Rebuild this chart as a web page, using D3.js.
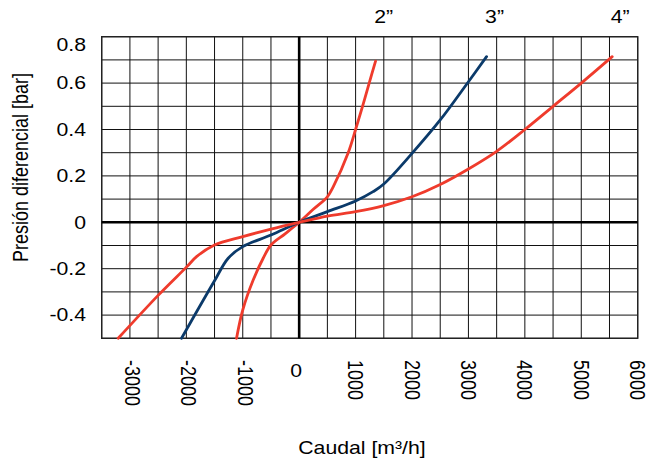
<!DOCTYPE html>
<html>
<head>
<meta charset="utf-8">
<script src="https://cdn.jsdelivr.net/npm/d3@7"></script>
<style>
html,body{margin:0;padding:0;background:#fff;}
svg{display:block;}
text{font-family:"Liberation Sans",Arial,Helvetica,sans-serif;font-size:18px;fill:#000;}
</style>
</head>
<body>
<svg id="chart" width="656" height="459"></svg>
<script>
// ---- data ----
const xTicks = [-3000, -2000, -1000, 0, 1000, 2000, 3000, 4000, 5000, 6000];
const yTicks = [0.8, 0.6, 0.4, 0.2, 0, -0.2, -0.4];
const yTickLabels = ["0.8", "0.6", "0.4", "0.2", "0", "-0.2", "-0.4"];
const seriesNames = ["2\u201D", "3\u201D", "4\u201D"];

const q2 = [-1110, -1000, -815, -638, -500, -250, 0, 250, 500, 603, 869, 1000, 1123, 1241, 1354];
const p2 = [-0.5, -0.378, -0.249, -0.155, -0.098, -0.05, 0, 0.056, 0.11, 0.153, 0.3, 0.4, 0.5, 0.6, 0.695];

const q3 = [-2085, -1985, -1500, -1258, -1000, -500, 0, 500, 1000, 1310, 1500, 2000, 2500, 3000, 3321];
const p3 = [-0.5, -0.457, -0.252, -0.155, -0.105, -0.055, 0, 0.046, 0.092, 0.132, 0.165, 0.297, 0.441, 0.606, 0.714];

const q4 = [-3208, -2500, -1985, -1819, -1500, -1000, -500, 0, 500, 1000, 1500, 2000, 2500, 3000, 3500, 4000, 4500, 5000, 5548];
const p4 = [-0.5, -0.315, -0.19, -0.148, -0.098, -0.062, -0.029, 0, 0.027, 0.046, 0.072, 0.11, 0.163, 0.23, 0.306, 0.40, 0.50, 0.60, 0.714];

const colors = ["#ef3b2c", "#0b3a6a", "#ef3b2c"];

// ---- layout ----
const svg = d3.select("#chart");
const L = 101.7, R = 637.7, T = 36.7, B = 338.3;
const SX = 1.18; // horizontal text stretch
const x = d3.scaleLinear().domain([-3500, 6000]).range([L, R]);
const y = d3.scaleLinear().domain([-0.5, 0.8]).range([B, T]);

// grid
const xGrid = d3.range(-3500, 6001, 500);
const yGrid = d3.range(-5, 9, 1).map(d => d / 10);
const g = svg.append("g");
g.selectAll("line.vx").data(xGrid).join("line")
  .attr("x1", d => x(d)).attr("x2", d => x(d)).attr("y1", T).attr("y2", B)
  .attr("stroke", "#111").attr("stroke-width", 1);
g.selectAll("line.hy").data(yGrid).join("line")
  .attr("y1", d => y(d)).attr("y2", d => y(d)).attr("x1", L).attr("x2", R)
  .attr("stroke", "#111").attr("stroke-width", 1);
g.append("rect").attr("x", L).attr("y", T).attr("width", R - L).attr("height", B - T)
  .attr("fill", "none").attr("stroke", "#222").attr("stroke-width", 1.4);
// zero axes
g.append("line").attr("x1", x(0)).attr("x2", x(0)).attr("y1", T).attr("y2", B)
  .attr("stroke", "#000").attr("stroke-width", 2.6);
g.append("line").attr("x1", L).attr("x2", R).attr("y1", y(0)).attr("y2", y(0))
  .attr("stroke", "#000").attr("stroke-width", 2.6);

// curves
const series = [[q2, p2], [q3, p3], [q4, p4]];
const line = d3.line().x(d => x(d[0])).y(d => y(d[1])).curve(d3.curveCatmullRom.alpha(0.5));
series.forEach((s, i) => {
  const pts = s[0].map((q, k) => [q, s[1][k]]);
  svg.append("path").attr("d", line(pts)).attr("fill", "none")
    .attr("stroke", colors[i]).attr("stroke-width", 2.8)
    .attr("stroke-linejoin", "round").attr("stroke-linecap", "round");
  const last = pts[pts.length - 1];
  svg.append("text")
    .attr("transform", `translate(${x(last[0]) + 8},23.3) scale(${SX},1)`)
    .attr("text-anchor", "middle").text(seriesNames[i]);
});

// y tick labels
svg.selectAll("text.yt").data(yTicks).join("text")
  .attr("transform", d => `translate(86,${Math.max(y(d), T + 7.5)}) scale(${SX},1)`)
  .attr("dy", "0.35em").attr("text-anchor", "end")
  .text((d, i) => yTickLabels[i]);

// x tick labels
xTicks.forEach(v => {
  if (v === 0) {
    svg.append("text")
      .attr("transform", `translate(${x(0) - 3},376.5) scale(${SX},1)`)
      .attr("text-anchor", "middle").text("0");
  } else {
    svg.append("text")
      .attr("transform", `translate(${x(v) + (v < 0 ? 2.5 : 0)},360) scale(${SX},1) rotate(90)`)
      .attr("text-anchor", "start").attr("dy", "0.35em").text(String(v));
  }
});

// axis titles
svg.append("text")
  .attr("transform", `translate(27.5,167.5) scale(${SX},1) rotate(-90)`)
  .attr("text-anchor", "middle").text("Presión diferencial [bar]");
svg.append("text")
  .attr("transform", `translate(362,454) scale(${SX},1)`)
  .attr("text-anchor", "middle").text("Caudal [m³/h]");
</script>
</body>
</html>
